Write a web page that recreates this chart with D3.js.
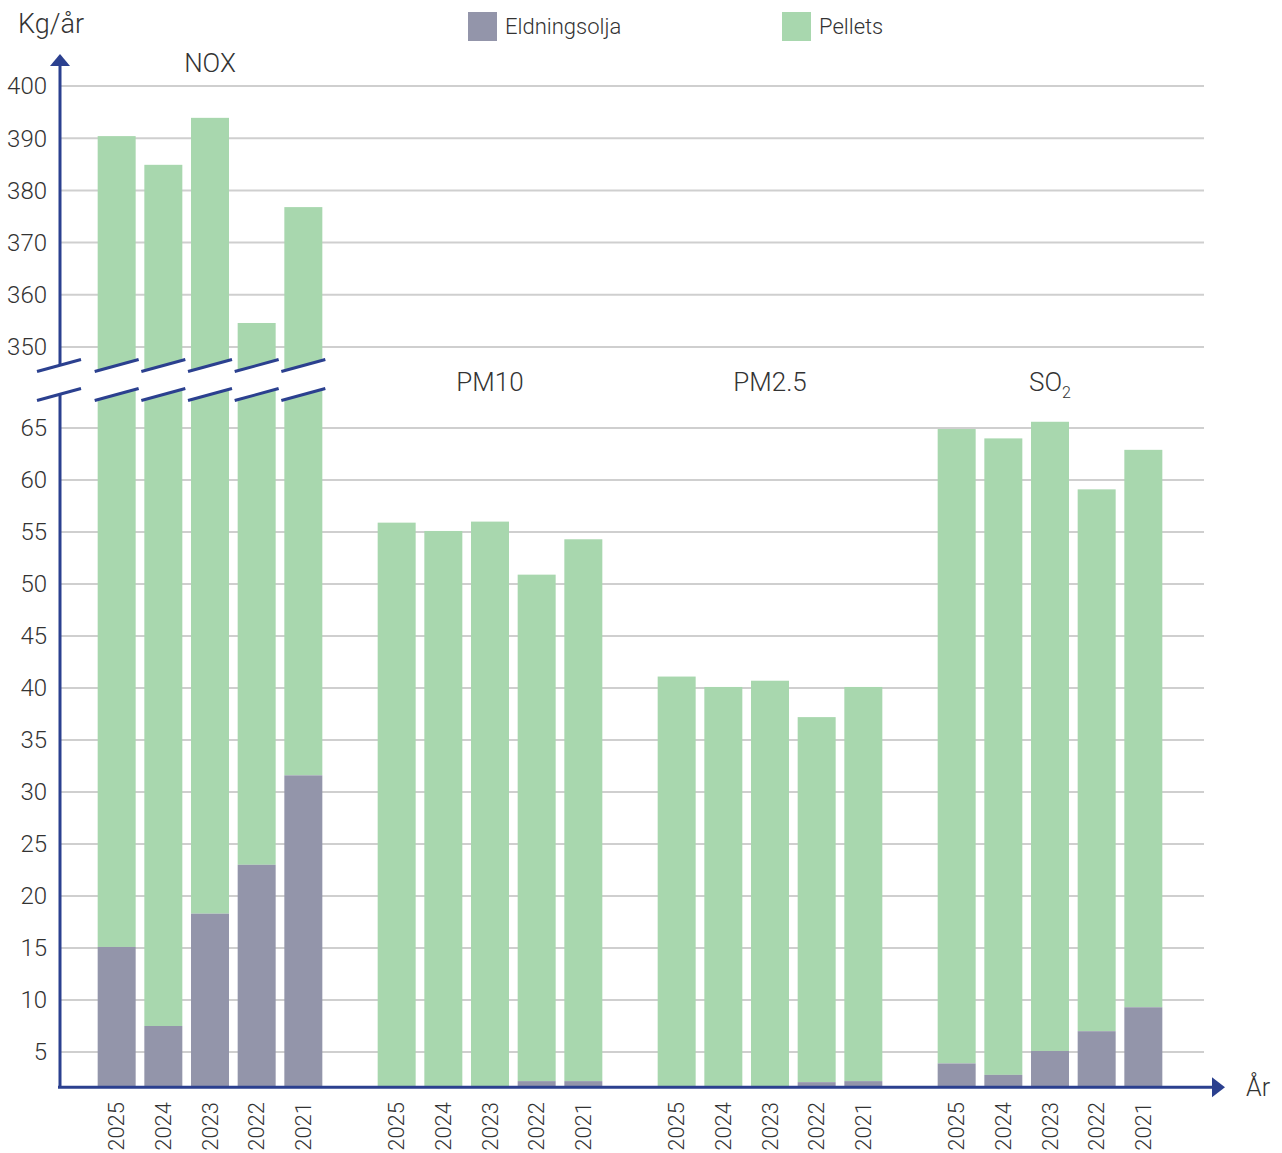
<!DOCTYPE html>
<html>
<head>
<meta charset="utf-8">
<script src="https://cdn.jsdelivr.net/npm/d3@7"></script>
<style>
  html, body { margin: 0; padding: 0; background: #fff; }
  svg { display: block; }
  text { font-family: "Source Sans Pro", Roboto, "Noto Sans", sans-serif; font-weight: 300; fill: #333; }
</style>
</head>
<body>
<svg id="chart" width="1282" height="1153"></svg>
<script>
// ---------------- DATA ----------------
const categories = ["NOX", "PM10", "PM2.5", "SO2"];
const years = ["2025", "2024", "2023", "2022", "2021"];
const seriesNames = ["Eldningsolja", "Pellets"];

const noxEldningsolja  = [15.1, 7.5, 18.3, 23.0, 31.6];
const noxPellets       = [375.3, 377.4, 375.6, 331.6, 345.2];
const pm10Eldningsolja = [0.5, 0.5, 0.5, 2.2, 2.2];
const pm10Pellets      = [55.4, 54.6, 55.5, 48.7, 52.1];
const pm25Eldningsolja = [0.5, 0.5, 0.5, 2.1, 2.2];
const pm25Pellets      = [40.6, 39.6, 40.2, 35.1, 37.9];
const so2Eldningsolja  = [3.9, 2.8, 5.1, 7.0, 9.3];
const so2Pellets       = [61.0, 61.2, 60.5, 52.1, 53.6];

const upperTicks = [350, 360, 370, 380, 390, 400];
const lowerTicks = [5, 10, 15, 20, 25, 30, 35, 40, 45, 50, 55, 60, 65];

const eldByCat = { "NOX": noxEldningsolja, "PM10": pm10Eldningsolja, "PM2.5": pm25Eldningsolja, "SO2": so2Eldningsolja };
const pelByCat = { "NOX": noxPellets, "PM10": pm10Pellets, "PM2.5": pm25Pellets, "SO2": so2Pellets };

// ---------------- LAYOUT ----------------
const colors = { Eldningsolja: "#9395aa", Pellets: "#a8d7ae" };
const axisColor = "#2b408f";
const gridColor = "#cfcfcf";
const axisX = 60;
const gridRight = 1204;
const axisMinValue = 1.6;   // lower axis baseline value (chart starts slightly above 0)
const breakY = 380;         // centre of the axis break
const breakHalf = 14.5;     // half vertical gap of the break
const breakSlope = -0.27;   // slope of break lines

const yLow = d3.scaleLinear().domain([0, 65]).range([1104, 428]);
const yUp = d3.scaleLinear().domain([350, 400]).range([347, 86]);
const baseY = yLow(axisMinValue);

const x0 = d3.scaleBand().domain(categories).range([70, 1190]).paddingInner(0).paddingOuter(0);
const x1 = d3.scaleBand().domain(years).range([0, x0.bandwidth()]).paddingInner(0.186).paddingOuter(0.593);

const svg = d3.select("#chart");

// ---------------- GRIDLINES ----------------
const grid = svg.append("g");
grid.selectAll("line.up").data(upperTicks).join("line")
  .attr("x1", axisX).attr("x2", gridRight)
  .attr("y1", d => yUp(d)).attr("y2", d => yUp(d))
  .attr("stroke", gridColor).attr("stroke-width", 2);
grid.selectAll("line.low").data(lowerTicks).join("line")
  .attr("x1", axisX).attr("x2", gridRight)
  .attr("y1", d => yLow(d)).attr("y2", d => yLow(d))
  .attr("stroke", gridColor).attr("stroke-width", 2);

// ---------------- BARS ----------------
const barData = [];
categories.forEach(cat => {
  years.forEach((yr, i) => {
    barData.push({ cat, yr, eld: eldByCat[cat][i], pel: pelByCat[cat][i] });
  });
});
const bars = svg.append("g");
barData.forEach(d => {
  const x = x0(d.cat) + x1(d.yr);
  const w = x1.bandwidth();
  const total = d.eld + d.pel;
  const eldTop = Math.min(yLow(Math.max(d.eld, axisMinValue)), baseY);
  const pelTop = d.cat === "NOX" ? yUp(total) : yLow(total);
  bars.append("rect").attr("x", x).attr("width", w)
    .attr("y", pelTop).attr("height", eldTop - pelTop)
    .attr("fill", colors.Pellets);
  if (d.eld > axisMinValue) {
    bars.append("rect").attr("x", x).attr("width", w)
      .attr("y", eldTop).attr("height", baseY - eldTop)
      .attr("fill", colors.Eldningsolja);
  }
});

// ---------------- BREAK MARKS ----------------
function drawBreak(xl, xr) {
  const xc = (xl + xr) / 2;
  const yAt = (xx, off) => breakY + off + (xx - xc) * breakSlope;
  const g = svg.append("g");
  g.append("polygon")
    .attr("points", [
      [xl, yAt(xl, -breakHalf)], [xr, yAt(xr, -breakHalf)],
      [xr, yAt(xr, breakHalf)], [xl, yAt(xl, breakHalf)]
    ].map(p => p.join(",")).join(" "))
    .attr("fill", "#fff");
  [-breakHalf, breakHalf].forEach(off => {
    g.append("line")
      .attr("x1", xl).attr("y1", yAt(xl, off))
      .attr("x2", xr).attr("y2", yAt(xr, off))
      .attr("stroke", axisColor).attr("stroke-width", 3);
  });
}
const axisBreakTop = breakY - breakHalf + (axisX - 59) * breakSlope;
const axisBreakBot = breakY + breakHalf + (axisX - 59) * breakSlope;
svg.append("line").attr("x1", axisX).attr("x2", axisX)
  .attr("y1", 64).attr("y2", axisBreakTop)
  .attr("stroke", axisColor).attr("stroke-width", 3);
svg.append("line").attr("x1", axisX).attr("x2", axisX)
  .attr("y1", axisBreakBot).attr("y2", baseY)
  .attr("stroke", axisColor).attr("stroke-width", 3);
drawBreak(37, 81);
years.forEach(yr => {
  const x = x0("NOX") + x1(yr);
  drawBreak(x - 3, x + x1.bandwidth() + 3);
});

// y-axis arrow
svg.append("polygon").attr("points", `${axisX},54 ${axisX - 10},66 ${axisX + 10},66`).attr("fill", axisColor);

// x-axis
svg.append("line").attr("x1", axisX - 2).attr("x2", 1214)
  .attr("y1", baseY).attr("y2", baseY)
  .attr("stroke", axisColor).attr("stroke-width", 3);
svg.append("polygon").attr("points", `1212,${baseY - 10} 1225,${baseY} 1212,${baseY + 10}`).attr("fill", axisColor);

// ---------------- TICK LABELS ----------------
const tl = svg.append("g").attr("font-size", 24).attr("text-anchor", "end");
upperTicks.forEach(t => tl.append("text").attr("x", 47).attr("y", yUp(t)).attr("dy", "0.35em").text(t));
lowerTicks.forEach(t => tl.append("text").attr("x", 47).attr("y", yLow(t)).attr("dy", "0.35em").text(t));

// year labels
const yl = svg.append("g").attr("font-size", 22).attr("text-anchor", "end");
barData.forEach(d => {
  const cx = x0(d.cat) + x1(d.yr) + x1.bandwidth() / 2;
  yl.append("text")
    .attr("transform", `translate(${cx},1102) rotate(-90)`)
    .attr("dy", "0.35em")
    .text(d.yr);
});

// ---------------- CATEGORY LABELS ----------------
const cl = svg.append("g").attr("font-size", 26).attr("text-anchor", "middle");
categories.forEach(cat => {
  const cx = x0(cat) + x0.bandwidth() / 2;
  const cy = cat === "NOX" ? 63 : 382;
  const t = cl.append("text").attr("x", cx).attr("y", cy).attr("dy", "0.35em");
  if (cat === "SO2") {
    t.append("tspan").text("SO");
    t.append("tspan").attr("font-size", 16).attr("dy", "0.45em").text("2");
  } else {
    t.text(cat);
  }
});

// axis titles
svg.append("text").attr("x", 18).attr("y", 24).attr("dy", "0.35em").attr("font-size", 27).text("Kg/år");
svg.append("text").attr("x", 1246).attr("y", baseY).attr("dy", "0.35em").attr("font-size", 25).text("År");

// ---------------- LEGEND ----------------
const legendX = [468, 782];
seriesNames.forEach((s, i) => {
  svg.append("rect").attr("x", legendX[i]).attr("y", 12).attr("width", 29).attr("height", 29).attr("fill", colors[s]);
  svg.append("text").attr("x", legendX[i] + 37).attr("y", 26).attr("dy", "0.35em").attr("font-size", 22).text(s);
});
</script>
</body>
</html>
